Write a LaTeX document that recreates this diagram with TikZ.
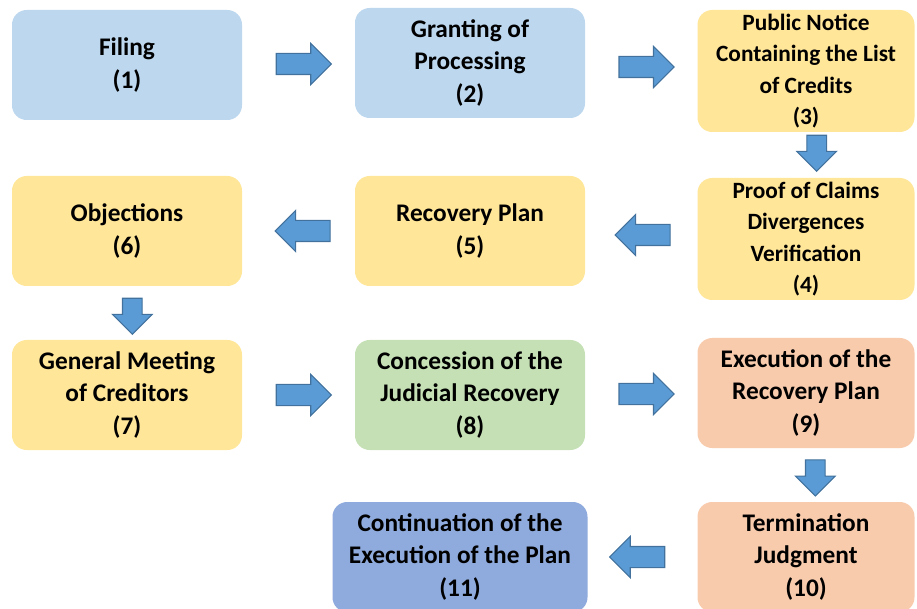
\documentclass[tikz,border=0pt]{standalone}
\usepackage{fontspec}
\setmainfont{Carlito}
\usetikzlibrary{shapes.arrows,calc}
\definecolor{paleblue}{HTML}{BDD7EE}
\definecolor{paleyellow}{HTML}{FFE699}
\definecolor{palegreen}{HTML}{C5E0B4}
\definecolor{salmon}{HTML}{F8CBAD}
\definecolor{midblue}{HTML}{8FAADC}
\definecolor{arrowblue}{HTML}{5B9BD5}
\definecolor{arrowedge}{HTML}{41719C}

\begin{document}
\begin{tikzpicture}[x=0.75pt,y=-0.75pt,
        stage/.style={rounded corners=11pt,minimum width=172.5pt,minimum height=82.5pt,
          align=center,inner sep=2pt,font=\bfseries\fontsize{19}{24.5}\selectfont},
        rightcol/.style={minimum width=162.75pt},
        tall/.style={minimum height=91.5pt,inner ysep=0pt,font=\bfseries\fontsize{17.5}{23.6}\selectfont},
        blockarrow/.style={single arrow,draw=arrowedge,fill=arrowblue,line width=0.8pt,
          inner xsep=0pt,inner ysep=7.5pt,single arrow head extend=7.5pt,minimum height=41.25pt},
        leftarrow/.style={blockarrow,rotate=180},
        downarrow/.style={blockarrow,rotate=-90,minimum height=27pt,inner ysep=7pt}]
      \useasboundingbox (0,0) rectangle (917,609);
      \node[stage,fill=paleblue] (filing) at (127,65) {Filing\\(1)};
      \node[stage,fill=paleblue] (granting) at (470,63) {Granting of\\Processing\\(2)};
      \node[stage,rightcol,tall,fill=paleyellow] (notice) at (806,71) {Public Notice\\Containing the List\\of Credits\\(3)};
      \node[stage,rightcol,tall,fill=paleyellow] (proof) at (806,239) {Proof of Claims\\Divergences\\Verification\\(4)};
      \node[stage,fill=paleyellow] (plan) at (470,231) {Recovery Plan\\(5)};
      \node[stage,fill=paleyellow] (objections) at (127,231) {Objections\\(6)};
      \node[stage,fill=paleyellow] (meeting) at (127,395) {General Meeting\\of Creditors\\(7)};
      \node[stage,fill=palegreen] (concession) at (470,395) {Concession of the\\Judicial Recovery\\(8)};
      \node[stage,rightcol,fill=salmon] (execution) at (806,393) {Execution of the\\Recovery Plan\\(9)};
      \node[stage,rightcol,fill=salmon] (termination) at (806,557) {Termination\\Judgment\\(10)};
      \node[stage,minimum width=191.25pt,fill=midblue] (continuation) at (460,557) {Continuation of the\\Execution of the Plan\\(11)};
      \node[blockarrow] (a12) at ($(filing.east)!0.5!(granting.west)$) {};
      \node[blockarrow] (a23) at ($(granting.east)!0.5!(notice.west)$) {};
      \node[xshift=8pt,yshift=5pt,downarrow] (a34) at ($(notice.south)!0.5!(proof.north)$) {};
      \node[xshift=5pt,leftarrow] (a45) at ($(proof.west)!0.5!(plan.east)$) {};
      \node[xshift=7pt,leftarrow] (a56) at ($(plan.west)!0.5!(objections.east)$) {};
      \node[xshift=4pt,yshift=1.25pt,downarrow] (a67) at ($(objections.south)!0.5!(meeting.north)$) {};
      \node[blockarrow] (a78) at ($(meeting.east)!0.5!(concession.west)$) {};
      \node[blockarrow] (a89) at ($(concession.east)!0.5!(execution.west)$) {};
      \node[xshift=7pt,yshift=1.5pt,downarrow] (a910) at ($(execution.south)!0.5!(termination.north)$) {};
      \node[leftarrow] (a1011) at ($(termination.west)!0.5!(continuation.east)$) {};
    \end{tikzpicture}
\end{document}
